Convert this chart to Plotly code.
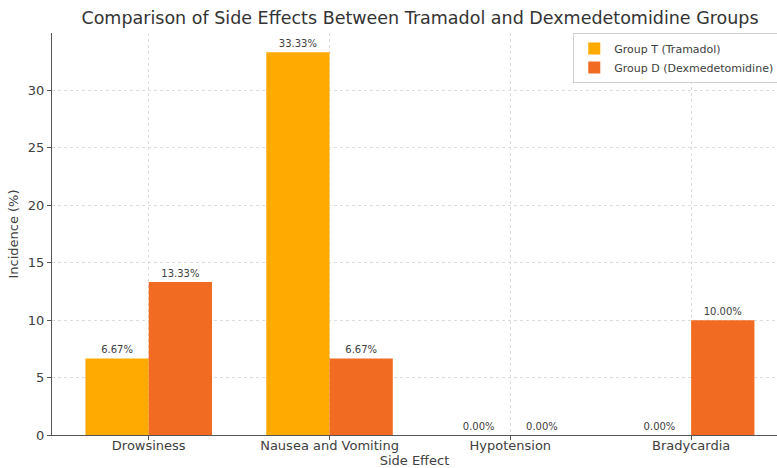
import plotly.graph_objects as go

# Side-effect incidence per group (%)
side_effects = ["Drowsiness", "Nausea and Vomiting", "Hypotension", "Bradycardia"]
group_t = [6.67, 33.33, 0.00, 0.00]
group_d = [13.33, 6.67, 0.00, 10.00]
y_ticks = [0, 5, 10, 15, 20, 25, 30]

FONT = "DejaVu Sans"
TEXT = "#404040"

fig = go.Figure()
fig.add_trace(go.Bar(
    name="Group T (Tramadol)", x=side_effects, y=group_t,
    marker=dict(color="#FFAA00", line=dict(width=0)),
    texttemplate="%{y:.2f}%", textposition="outside",
    textfont=dict(size=10, color=TEXT, family=FONT), cliponaxis=False,
))
fig.add_trace(go.Bar(
    name="Group D (Dexmedetomidine)", x=side_effects, y=group_d,
    marker=dict(color="#F26B22", line=dict(width=0)),
    texttemplate="%{y:.2f}%", textposition="outside",
    textfont=dict(size=10, color=TEXT, family=FONT), cliponaxis=False,
))

fig.update_layout(
    width=777, height=468,
    margin=dict(l=52, r=0, t=33, b=33, autoexpand=False),
    paper_bgcolor="white", plot_bgcolor="white",
    barmode="group", bargap=0.3, bargroupgap=0,
    font=dict(family=FONT, color=TEXT),
    title=dict(
        text="Comparison of Side Effects Between Tramadol and Dexmedetomidine Groups",
        x=420 / 777, xanchor="center", y=1 - 18 / 468, yanchor="middle",
        font=dict(size=17.5, color="#333333", family=FONT),
    ),
    legend=dict(
        x=0.719, y=1.0, xanchor="left", yanchor="top",
        bgcolor="rgba(255,255,255,0.9)", bordercolor="#d0d0d0", borderwidth=1,
        font=dict(size=11, color=TEXT, family=FONT),
        itemwidth=30, tracegroupgap=0,
    ),
    showlegend=True,
)
fig.update_xaxes(
    range=[-0.535, 3.475],
    showline=True, linecolor="#555555", linewidth=1.2,
    ticks="outside", ticklen=4, tickcolor="#555555",
    tickfont=dict(size=13, color=TEXT), ticklabelstandoff=-6,
    showgrid=True, gridcolor="#dddddd", griddash="dot", gridwidth=1,
    title=dict(text="Side Effect", font=dict(size=13, color=TEXT), standoff=0),
)
fig.update_yaxes(
    range=[0, 35], tickvals=y_ticks,
    showline=True, linecolor="#555555", linewidth=1.2,
    ticks="outside", ticklen=4, tickcolor="#555555",
    tickfont=dict(size=13, color=TEXT),
    showgrid=True, gridcolor="#dddddd", griddash="dot", gridwidth=1,
    zeroline=False,
    title=dict(text="Incidence (%)", font=dict(size=13, color=TEXT), standoff=6),
)

fig.write_html("out.html")
